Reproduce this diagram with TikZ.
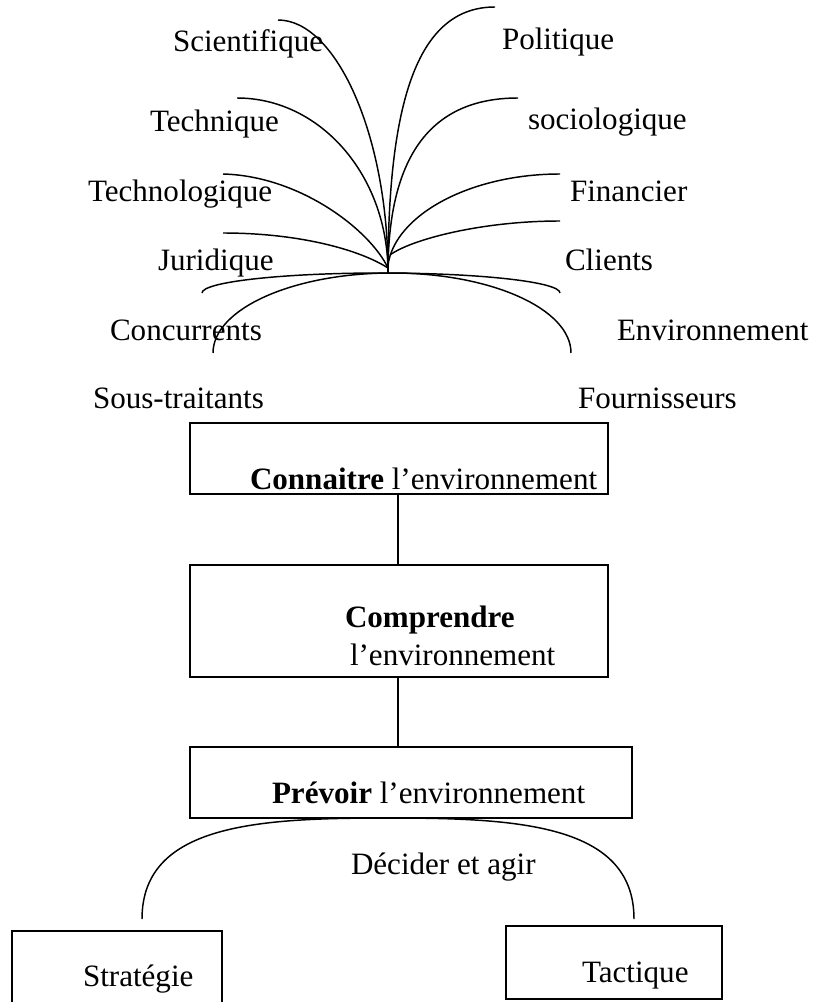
\documentclass[tikz,border=0pt]{standalone}
\usepackage{fontspec}
\setmainfont{Liberation Serif}
\begin{document}
\begin{tikzpicture}[x=0.75pt, y=-0.75pt,
  every node/.style={inner sep=0pt, outer sep=0pt, font=\fontsize{23.3}{28}\selectfont},
  lbl/.style={anchor=base west},
  frame/.style 2 args={draw, line width=1.5pt, minimum width=#1*0.75pt, minimum height=#2*0.75pt},
  branch/.style={line width=1.1pt},
  link/.style={line width=1.5pt}]
\clip (0,0) rectangle (816,1002);
\useasboundingbox (0,0) rectangle (816,1002);

% common root of the fan
\coordinate (hub) at (388,273);

% free ends of the branches
\coordinate (sciE) at (278,20);
\coordinate (tecE) at (237,98);
\coordinate (tgyE) at (223,174);
\coordinate (jurE) at (223,233);
\coordinate (polE) at (495,7);
\coordinate (socE) at (518,98);
\coordinate (finE) at (560,174);
\coordinate (cliE) at (560,221);
\coordinate (tgyR) at (388,268);
\coordinate (jurR) at (388,268);
\coordinate (finR) at (388,265);
\coordinate (cliR) at (390,255);

% branches
\draw[branch] (sciE) .. controls (336,20) and (388,135) .. (hub);
\draw[branch] (tecE) .. controls (320,98) and (388,175) .. (hub);
\draw[branch] (tgyE) .. controls (300,176) and (370,230) .. (tgyR);
\draw[branch] (jurE) .. controls (300,233) and (360,250) .. (jurR);
\draw[branch] (polE) .. controls (420,7) and (388,95) .. (hub);
\draw[branch] (socE) .. controls (428,98) and (388,160) .. (hub);
\draw[branch] (finE) .. controls (470,174) and (395,215) .. (finR);
\draw[branch] (cliE) .. controls (480,221) and (410,240) .. (cliR);

% the two arches below the root
\coordinate (archA) at (202,293);
\coordinate (archB) at (213,353);
\draw[branch] (archA) arc[start angle=180, end angle=360, x radius=179, y radius=20];
\draw[branch] (archB) arc[start angle=180, end angle=360, x radius=179, y radius=80];

% environment labels
\node[lbl] (sci) at (173,51.7) {Scientifique};
\node[lbl] (pol) at (502,50) {Politique};
\node[lbl] (tec) at (150,131.7) {Technique};
\node[lbl] (soc) at (528,130) {sociologique};
\node[lbl] (tgy) at (88,201.7) {Technologique};
\node[lbl] (fin) at (570,201.7) {Financier};
\node[lbl] (jur) at (158,270) {Juridique};
\node[lbl] (cli) at (565,270) {Clients};
\node[lbl] (con) at (110,340) {Concurrents};
\node[lbl] (env) at (617,340) {Environnement};
\node[lbl] (sst) at (93,408) {Sous-traitants};
\node[lbl] (fou) at (578,408) {Fournisseurs};

% process boxes
\node[frame={418}{71}] (know) at (399,458.5) {};
\node[frame={418}{112}] (grasp) at (399,621) {};
\node[frame={442}{71}] (plan) at (411,782.5) {};
\node[frame={210}{73}] (strat) at (117,967.5) {};
\node[frame={216}{73}] (tact) at (614,962.5) {};

\node[lbl] (knowT) at (250,489) {\textbf{Connaitre} l’environnement};
\node[lbl] (graspT) at (345,627) {\textbf{Comprendre}};
\node[lbl] (graspU) at (350,665) {l’environnement};
\node[lbl] (planT) at (272,803) {\textbf{Prévoir} l’environnement};
\node[lbl] (act) at (351,874) {Décider et agir};
\node[lbl] (stratT) at (83,986.7) {Stratégie};
\node[lbl] (tactT) at (582,982) {Tactique};

% links between the boxes
\draw[link] (know.south -| 398,0) -- (grasp.north -| 398,0);
\draw[link] (grasp.south -| 398,0) -- (plan.north -| 398,0);

% decision arch
\coordinate (dL) at (142,919);
\coordinate (dT) at (388,818);
\coordinate (dR) at (634,919);
\draw[branch] (dL) .. controls (142,824) and (258,818) .. (dT)
              .. controls (518,818) and (634,824) .. (dR);
\end{tikzpicture}
\end{document}
